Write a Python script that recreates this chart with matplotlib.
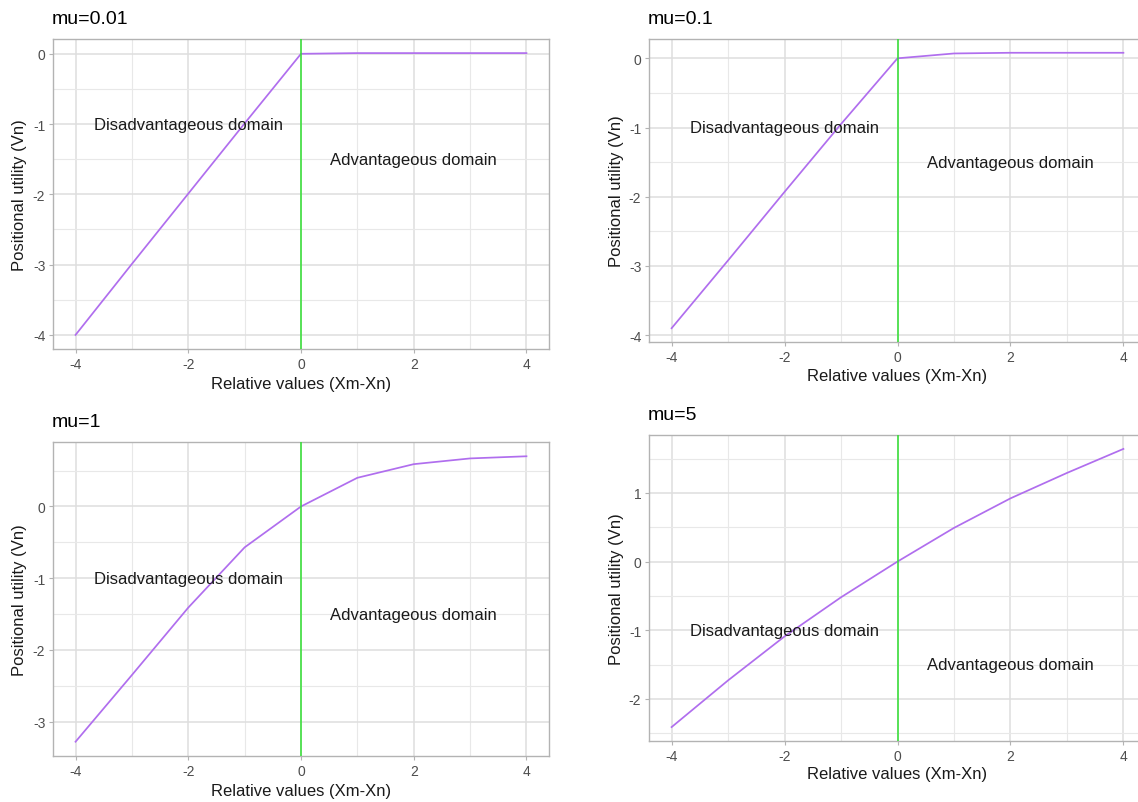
import matplotlib
matplotlib.use("Agg")
import matplotlib.pyplot as plt
from matplotlib.ticker import MultipleLocator

plt.rcParams['font.family'] = ['Liberation Sans', 'DejaVu Sans']

# ---- data ----
x_vals = [-4, -3, -2, -1, 0, 1, 2, 3, 4]
titles = ["mu=0.01", "mu=0.1", "mu=1", "mu=5"]
v_mu001 = [-4.00, -2.99, -1.99, -0.99, 0.00, 0.01, 0.01, 0.01, 0.01]
v_mu01 = [-3.90, -2.92, -1.93, -0.95, 0.00, 0.07, 0.08, 0.08, 0.08]
v_mu1 = [-3.28, -2.35, -1.41, -0.57, 0.00, 0.40, 0.59, 0.67, 0.70]
v_mu5 = [-2.41, -1.73, -1.09, -0.52, 0.00, 0.49, 0.92, 1.29, 1.64]
series = [v_mu001, v_mu01, v_mu1, v_mu5]
dis_label = "Disadvantageous domain"
adv_label = "Advantageous domain"
dis_pos = (-2, -1.0)
adv_pos = (2, -1.5)
x_label = "Relative values (Xm-Xn)"
y_label = "Positional utility (Vn)"

W, H = 1138, 803
fig = plt.figure(figsize=(W / 100, H / 100), dpi=100)
fig.patch.set_facecolor("white")

# panel boxes in pixels: (left, right, top, bottom)
boxes = [(53, 549, 40, 350), (649, 1146, 40, 343),
         (53, 549, 443, 757), (649, 1146, 436, 742)]
title_y = [20, 20, 423, 416]
xlab_off = [35, 34, 35, 33]

for i, (vals, ttl, (l, r, t, b)) in enumerate(zip(series, titles, boxes)):
    ax = fig.add_axes([l / W, 1 - b / H, (r - l) / W, (b - t) / H])
    ax.set_facecolor("white")
    ax.plot(x_vals, vals, color="#B06EEE", lw=1.25, zorder=3)
    ax.axvline(0, color="#30E030", lw=1.1, zorder=4)
    ax.text(dis_pos[0], dis_pos[1], dis_label, ha="center", va="center",
            fontsize=12, color="#1a1a1a", zorder=5)
    ax.text(adv_pos[0], adv_pos[1], adv_label, ha="center", va="center",
            fontsize=12, color="#1a1a1a", zorder=5)
    ax.margins(x=0.05, y=0.05)
    ax.xaxis.set_major_locator(MultipleLocator(2))
    ax.xaxis.set_minor_locator(MultipleLocator(1))
    ax.yaxis.set_major_locator(MultipleLocator(1))
    ax.yaxis.set_minor_locator(MultipleLocator(0.5))
    ax.grid(which="major", color="#DEDEDE", lw=1.1, zorder=0)
    ax.grid(which="minor", color="#E8E8E8", lw=0.8, zorder=0)
    ax.set_axisbelow(True)
    for s in ax.spines.values():
        s.set_color("#B3B3B3")
        s.set_linewidth(1.0)
    ax.tick_params(which="major", length=3, width=0.8, color="#B3B3B3",
                   labelsize=10, labelcolor="#4D4D4D", pad=2.5)
    ax.tick_params(which="minor", length=0)
    ax.set_xticks([-4, -2, 0, 2, 4])
    ax.set_xticklabels(["-4", "-2", "0", "2", "4"])
    yt = [v for v in ax.get_yticks() if ax.get_ylim()[0] <= v <= ax.get_ylim()[1]]
    ax.set_yticks(yt)
    ax.set_yticklabels([str(int(round(v))) for v in yt])
    ax.set_xlabel(x_label, fontsize=12, color="#1a1a1a", va="center")
    ax.xaxis.set_label_coords(0.5, -xlab_off[i] / (b - t))
    ax.set_ylabel(y_label, fontsize=12, color="#1a1a1a", va="center")
    ax.yaxis.set_label_coords(-(l - (20 if l < 300 else 617)) / (r - l), 0.5)
    fig.text((l - 1) / W, 1 - title_y[i] / H, ttl, fontsize=14,
             ha="left", va="center", color="black")

fig.savefig("out.png", dpi=100, facecolor="white")
